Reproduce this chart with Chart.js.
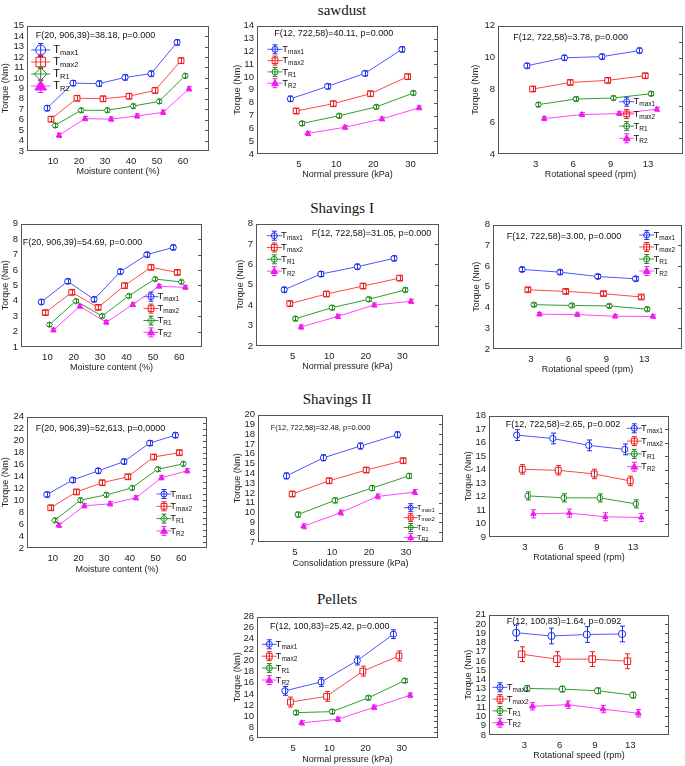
<!DOCTYPE html>
<html>
<head>
<meta charset="utf-8">
<script src="https://cdn.jsdelivr.net/npm/chart.js@4.4.1/dist/chart.umd.min.js"></script>
<style>
  html, body { margin: 0; padding: 0; background: #fff; }
  #page { position: relative; width: 685px; height: 766px; overflow: hidden; }
  #page canvas { position: absolute; }
  .title { position: absolute; font-family: 'Liberation Serif', 'Times New Roman', serif; font-size: 15px; color: #111; transform: translate(-50%, -50%); white-space: nowrap; }
</style>
</head>
<body>
<div id="page">
  <div class="title" style="left:342px;top:10px">sawdust</div>
  <div class="title" style="left:342px;top:208px">Shavings I</div>
  <div class="title" style="left:337px;top:399px">Shavings II</div>
  <div class="title" style="left:337px;top:599px">Pellets</div>
</div>
<script>
// categories
const moistureCats = ['10', '20', '30', '40', '50', '60'];
const pressureCats = ['5', '10', '20', '30'];
const speedCats = ['3', '6', '9', '13'];
const seriesSubs = ['max1', 'max2', 'R1', 'R2'];

// sawdust
const sawMoistTmax1 = [7.1, 9.5, 9.45, 10.05, 10.4, 13.4];
const sawMoistTmax2 = [6.05, 8.05, 8.0, 8.25, 8.8, 11.65];
const sawMoistTR1 = [5.45, 6.9, 6.9, 7.3, 7.75, 10.2];
const sawMoistTR2 = [4.5, 6.1, 6.05, 6.35, 6.7, 8.95];
const sawMoistErr = [0.25, 0.25, 0.2, 0.2];

const sawPressTmax1 = [8.3, 9.27, 10.28, 12.15];
const sawPressTmax2 = [7.35, 7.92, 8.7, 10.03];
const sawPressTR1 = [6.38, 6.98, 7.67, 8.75];
const sawPressTR2 = [5.6, 6.08, 6.73, 7.6];
const sawPressErr = [0.2, 0.2, 0.15, 0.15];

const sawSpeedTmax1 = [9.5, 10.0, 10.07, 10.45];
const sawSpeedTmax2 = [8.05, 8.46, 8.59, 8.88];
const sawSpeedTR1 = [7.08, 7.43, 7.49, 7.76];
const sawSpeedTR2 = [6.21, 6.46, 6.52, 6.79];
const sawSpeedErr = [0.15, 0.15, 0.12, 0.12];

// Shavings I
const shv1MoistTmax1 = [3.92, 5.26, 4.09, 5.89, 6.99, 7.46];
const shv1MoistTmax2 = [3.23, 4.55, 3.57, 4.98, 6.17, 5.84];
const shv1MoistTR1 = [2.45, 3.98, 3.01, 4.31, 5.41, 5.22];
const shv1MoistTR2 = [2.1, 3.64, 2.6, 3.75, 4.94, 4.87];
const shv1MoistErr = [0.15, 0.15, 0.12, 0.12];

const shv1PressTmax1 = [4.76, 5.53, 5.89, 6.3];
const shv1PressTmax2 = [4.08, 4.55, 4.94, 5.33];
const shv1PressTR1 = [3.34, 3.88, 4.29, 4.75];
const shv1PressTR2 = [2.93, 3.45, 4.01, 4.19];
const shv1PressErr = [0.12, 0.12, 0.1, 0.1];

const shv1SpeedTmax1 = [5.84, 5.71, 5.5, 5.39];
const shv1SpeedTmax2 = [4.86, 4.78, 4.67, 4.51];
const shv1SpeedTR1 = [4.14, 4.1, 4.08, 3.92];
const shv1SpeedTR2 = [3.68, 3.66, 3.58, 3.57];
const shv1SpeedErr = [0.1, 0.1, 0.08, 0.08];

// Shavings II
const shv2MoistTmax1 = [10.95, 13.38, 14.93, 16.48, 19.57, 20.9];
const shv2MoistTmax2 = [8.74, 11.39, 12.94, 13.93, 17.25, 17.97];
const shv2MoistTR1 = [6.64, 10.01, 10.9, 12.06, 15.2, 16.09];
const shv2MoistTR2 = [5.81, 9.07, 9.4, 10.4, 13.77, 14.93];
const shv2MoistErr = [0.4, 0.4, 0.35, 0.35];

const shv2PressTmax1 = [13.75, 15.6, 16.8, 17.95];
const shv2PressTmax2 = [11.9, 13.25, 14.35, 15.3];
const shv2PressTR1 = [9.8, 11.25, 12.5, 13.75];
const shv2PressTR2 = [8.6, 10.0, 11.65, 12.1];
const shv2PressErr = [0.3, 0.25, 0.25, 0.25];

const shv2SpeedTmax1 = [16.56, 16.31, 15.8, 15.5];
const shv2SpeedTmax2 = [14.02, 13.95, 13.68, 13.16];
const shv2SpeedTR1 = [12.05, 11.91, 11.9, 11.46];
const shv2SpeedTR2 = [10.72, 10.77, 10.5, 10.45];
const shv2SpeedErr = [0.4, 0.35, 0.3, 0.3];

// Pellets
const pelPressTmax1 = [14.55, 16.16, 20.05, 24.83];
const pelPressTmax2 = [12.52, 13.55, 18.13, 20.88];
const pelPressTR1 = [10.6, 10.78, 13.29, 16.4];
const pelPressTR2 = [8.75, 9.4, 11.56, 13.77];
const pelPressErr = [0.8, 0.9, 0.35, 0.4];

const pelSpeedTmax1 = [19.05, 18.7, 18.86, 18.92];
const pelSpeedTmax2 = [16.73, 16.2, 16.2, 15.97];
const pelSpeedTR1 = [13.03, 12.96, 12.78, 12.31];
const pelSpeedTR2 = [11.1, 11.28, 10.8, 10.35];
const pelSpeedErr = [0.85, 0.8, 0.3, 0.4];

// look
const offsets = [-0.23, -0.077, 0.077, 0.23];
const lineColors = ['#4b57ff', '#ff4646', '#2f9f2f', '#ff45ff'];
const markColors = ['#1c2df2', '#ee1c1c', '#1f8a1f', '#ee1cee'];
const FONT = "'Liberation Sans', Arial, sans-serif";

Chart.defaults.font.family = FONT;
Chart.defaults.color = '#222';

const panels = [
  { cats: moistureCats, series: [sawMoistTmax1, sawMoistTmax2, sawMoistTR1, sawMoistTR2], err: sawMoistErr,
    y: [3, 15, 1], x: [0, 7], xTitle: 'Moisture content (%)', diamond: true,
    box: [26.7, 24.5, 209, 150.5], titleX: 5, xTitleY: 172,
    note: 'F(20, 906,39)=38.18, p=0.000', notePos: [35.7, 36], noteFont: 9,
    legend: { x: 40.7, y: 50, dy: 12, r: 5, font: 11, tx: 12.6 } },
  { cats: pressureCats, series: [sawPressTmax1, sawPressTmax2, sawPressTR1, sawPressTR2], err: sawPressErr,
    y: [4, 14, 1], x: [-0.13, 4.74], xTitle: 'Normal pressure (kPa)',
    box: [256.7, 25, 438.3, 154], titleX: 237.7, xTitleY: 175,
    note: 'F(12, 722,58)=40.11, p=0.000', notePos: [274.3, 33.3], noteFont: 9,
    legend: { x: 275, y: 49.3, dy: 11.3, r: 3, font: 9.5, tx: 7.3 } },
  { cats: speedCats, series: [sawSpeedTmax1, sawSpeedTmax2, sawSpeedTR1, sawSpeedTR2], err: sawSpeedErr,
    y: [4, 12, 2], x: [0, 4.93], xTitle: 'Rotational speed (rpm)',
    box: [498.3, 25, 682.7, 154], titleX: 475, xTitleY: 175,
    note: 'F(12, 722,58)=3.78, p=0.000', notePos: [513.3, 37.7], noteFont: 9,
    legend: { x: 626.7, y: 101.7, dy: 12.2, r: 3, font: 9.5, tx: 6.8 } },
  { cats: moistureCats, series: [shv1MoistTmax1, shv1MoistTmax2, shv1MoistTR1, shv1MoistTR2], err: shv1MoistErr,
    y: [1, 9, 1], x: [0, 6.86], xTitle: 'Moisture content (%)', diamond: true,
    box: [20.7, 223.3, 202.3, 346.7], titleX: 5, xTitleY: 367.7,
    note: 'F(20, 906,39)=54.69, p=0.000', notePos: [22.7, 242.7], noteFont: 9,
    legend: { x: 151, y: 296.7, dy: 11.9, r: 3, font: 9.5, tx: 6.5 } },
  { cats: pressureCats, series: [shv1PressTmax1, shv1PressTmax2, shv1PressTR1, shv1PressTR2], err: shv1PressErr,
    y: [2, 8, 1], x: [0, 5], xTitle: 'Normal pressure (kPa)',
    box: [255.7, 223.3, 439.3, 345.7], titleX: 240, xTitleY: 367,
    note: 'F(12, 722,58)=31.05, p=0.000', notePos: [311.7, 234], noteFont: 9,
    legend: { x: 274.3, y: 235.7, dy: 11.8, r: 3, font: 9.5, tx: 6.8 } },
  { cats: speedCats, series: [shv1SpeedTmax1, shv1SpeedTmax2, shv1SpeedTR1, shv1SpeedTR2], err: shv1SpeedErr,
    y: [2, 8, 1], x: [0, 5], xTitle: 'Rotational speed (rpm)',
    box: [493.3, 224, 681.7, 349], titleX: 476, xTitleY: 370,
    note: 'F(12, 722,58)=3.00, p=0.000', notePos: [506.7, 237], noteFont: 9,
    legend: { x: 646.7, y: 235, dy: 12, r: 3, font: 9.5, tx: 6.8 } },
  { cats: moistureCats, series: [shv2MoistTmax1, shv2MoistTmax2, shv2MoistTR1, shv2MoistTR2], err: shv2MoistErr,
    y: [2, 24, 2], x: [0, 7], xTitle: 'Moisture content (%)', diamond: true,
    box: [26.7, 415.7, 207.3, 548.3], titleX: 5, xTitleY: 569.3,
    note: 'F(20, 906,39)=52,613, p=0,0000', notePos: [35.7, 428.3], noteFont: 9,
    legend: { x: 164, y: 494, dy: 12.3, r: 3, font: 9.5, tx: 6.3 } },
  { cats: pressureCats, series: [shv2PressTmax1, shv2PressTmax2, shv2PressTR1, shv2PressTR2], err: shv2PressErr,
    y: [7, 20, 1], x: [0, 5], xTitle: 'Consolidation pressure (kPa)',
    box: [258.3, 414.3, 443.3, 541.7], titleX: 237.7, xTitleY: 564,
    note: 'F(12, 722,58)=32.48, p=0.000', notePos: [270.7, 427.7], noteFont: 7.5,
    legend: { x: 410.7, y: 507.7, dy: 9.9, r: 2.5, font: 8, tx: 6 } },
  { cats: speedCats, series: [shv2SpeedTmax1, shv2SpeedTmax2, shv2SpeedTR1, shv2SpeedTR2], err: shv2SpeedErr,
    y: [9, 18, 1], x: [0, 5], xTitle: 'Rotational speed (rpm)',
    box: [489.3, 415, 669, 536.7], titleX: 468.3, xTitleY: 557.7,
    note: 'F(12, 722,58)=2.65, p=0.002', notePos: [505.7, 425], noteFont: 9,
    legend: { x: 634.3, y: 428.3, dy: 12.8, r: 3, font: 9.5, tx: 6.8 } },
  { cats: pressureCats, series: [pelPressTmax1, pelPressTmax2, pelPressTR1, pelPressTR2], err: pelPressErr,
    y: [6, 28, 2], x: [0, 5], xTitle: 'Normal pressure (kPa)',
    box: [256.7, 615.7, 438.3, 738.3], titleX: 237.7, xTitleY: 759.3,
    note: 'F(12, 100,83)=25.42, p=0.000', notePos: [270, 626.7], noteFont: 9,
    legend: { x: 269.3, y: 644.3, dy: 11.9, r: 3, font: 9.5, tx: 6.3 } },
  { cats: speedCats, series: [pelSpeedTmax1, pelSpeedTmax2, pelSpeedTR1, pelSpeedTR2], err: pelSpeedErr,
    y: [8, 21, 1], x: [0, 5.1], xTitle: 'Rotational speed (rpm)', big: true,
    box: [489.3, 614.3, 669, 735], titleX: 468.3, xTitleY: 756,
    note: 'F(12, 100,83)=1.64, p=0.092', notePos: [506.7, 621.7], noteFont: 9,
    legend: { x: 500, y: 687.3, dy: 11.8, r: 3, font: 9.5, tx: 6.8 } },
];

function drawMarker(ctx, shape, x, y, r, color, fill) {
  ctx.beginPath();
  if (shape === 'circle') ctx.arc(x, y, r, 0, Math.PI * 2);
  else if (shape === 'rect') ctx.rect(x - r * 0.95, y - r * 0.95, r * 1.9, r * 1.9);
  else if (shape === 'rectRot') {
    ctx.moveTo(x, y - r * 1.25); ctx.lineTo(x + r * 1.25, y);
    ctx.lineTo(x, y + r * 1.25); ctx.lineTo(x - r * 1.25, y); ctx.closePath();
  } else {
    ctx.moveTo(x, y - r * 1.15); ctx.lineTo(x + r * 1.15, y + r * 0.8);
    ctx.lineTo(x - r * 1.15, y + r * 0.8); ctx.closePath();
  }
  ctx.fillStyle = fill; ctx.fill();
  ctx.strokeStyle = color; ctx.lineWidth = 1; ctx.stroke();
}

function drawBar(ctx, x, y1, y2, cap, color) {
  ctx.strokeStyle = color; ctx.lineWidth = 1;
  ctx.beginPath();
  ctx.moveTo(x, y1); ctx.lineTo(x, y2);
  ctx.moveTo(x - cap, y1); ctx.lineTo(x + cap, y1);
  ctx.moveTo(x - cap, y2); ctx.lineTo(x + cap, y2);
  ctx.stroke();
}

function makePanel(p, page) {
  const cl = Math.max(0, Math.round(p.titleX - 5.4));
  const ct = Math.round(p.box[1] - 8);
  const cw = Math.round(p.box[2] + 4) - cl;
  const ch = Math.round(p.xTitleY + 5.4) - ct;
  const leftW = Math.round(p.box[0]) - cl;
  const bottomH = ch - (Math.round(p.box[3]) - ct);

  const canvas = document.createElement('canvas');
  canvas.width = cw; canvas.height = ch;
  canvas.style.left = cl + 'px'; canvas.style.top = ct + 'px';
  canvas.style.width = cw + 'px'; canvas.style.height = ch + 'px';
  page.appendChild(canvas);

  const shapes = ['circle', 'rect', p.diamond ? 'rectRot' : 'circle', 'triangle'];
  const radii = p.big ? [3.6, 4.6, 3.2, 3.4] : [3.1, 4.1, p.diamond ? 3.2 : 2.8, 3.1];

  const extras = {
    id: 'extras',
    afterDatasetsDraw(chart) {
      const { ctx, chartArea: a, scales } = chart;
      const ys = scales.y;
      ctx.save();
      // error bars
      chart.data.datasets.forEach((ds, s) => {
        const meta = chart.getDatasetMeta(s);
        meta.data.forEach((pt, j) => {
          const v = ds.data[j].y;
          drawBar(ctx, Math.round(pt.x) + 0.5, ys.getPixelForValue(v + p.err[s]),
            ys.getPixelForValue(v - p.err[s]), 2.5, markColors[s]);
        });
      });
      // frame
      ctx.strokeStyle = '#555'; ctx.lineWidth = 1;
      ctx.strokeRect(Math.round(a.left) + 0.5, Math.round(a.top) + 0.5,
        Math.round(a.width) - 1, Math.round(a.height) - 1);
      // small inner ticks on the right edge
      const minor = p.y[2] === 2 ? 1 : p.y[2];
      ctx.beginPath();
      for (let v = p.y[0] + minor; v < p.y[1]; v += minor) {
        const yy = Math.round(ys.getPixelForValue(v)) + 0.5;
        ctx.moveTo(a.right - 4, yy); ctx.lineTo(a.right, yy);
      }
      ctx.stroke();
      // statistic note
      ctx.fillStyle = '#111';
      ctx.font = p.noteFont + 'px ' + FONT;
      ctx.textBaseline = 'middle';
      ctx.textAlign = 'left';
      ctx.fillText(p.note, p.notePos[0] - cl, p.notePos[1] - ct);
      // legend
      const L = p.legend;
      seriesSubs.forEach((sub, s) => {
        const x = L.x - cl, y = L.y - ct + s * L.dy;
        const half = L.r + 2.5;
        ctx.strokeStyle = lineColors[s]; ctx.lineWidth = 1;
        ctx.beginPath(); ctx.moveTo(x - half - 2, y); ctx.lineTo(x + half + 2, y); ctx.stroke();
        drawBar(ctx, x, y - L.r - 1.5, y + L.r + 1.5, 2.5, markColors[s]);
        drawMarker(ctx, shapes[s], x, y, L.r, markColors[s], s === 3 ? markColors[s] : 'rgba(255,255,255,0)');
        ctx.fillStyle = '#111';
        ctx.font = L.font + 'px ' + FONT;
        ctx.textBaseline = 'middle';
        ctx.fillText('T', x + L.tx, y);
        const tw = ctx.measureText('T').width;
        ctx.font = (L.font * 0.68).toFixed(1) + 'px ' + FONT;
        ctx.fillText(sub, x + L.tx + tw, y + L.font * 0.3);
      });
      ctx.restore();
    }
  };

  new Chart(canvas, {
    type: 'line',
    data: {
      datasets: p.series.map((vals, s) => ({
        label: 'T' + seriesSubs[s],
        data: vals.map((v, i) => ({ x: i + 1 + offsets[s], y: v })),
        borderColor: lineColors[s],
        borderWidth: 1,
        pointStyle: shapes[s],
        pointRadius: radii[s],
        pointBorderWidth: 1,
        pointBorderColor: markColors[s],
        pointBackgroundColor: s === 3 ? markColors[s] : '#fff',
        tension: 0,
        fill: false,
      })),
    },
    options: {
      responsive: false,
      animation: false,
      events: [],
      layout: { padding: { top: 8, right: 4, left: 0, bottom: 0 }, autoPadding: false },
      plugins: { legend: { display: false }, tooltip: { enabled: false } },
      scales: {
        x: {
          type: 'linear',
          min: p.x[0],
          max: p.x[1],
          grid: { display: false, drawTicks: false },
          border: { display: false },
          afterBuildTicks: (sc) => { sc.ticks = p.cats.map((c, i) => ({ value: i + 1 })); },
          ticks: { callback: (v) => p.cats[v - 1], padding: 5, autoSkip: false, maxRotation: 0, font: { size: 9.5 }, color: '#222' },
          title: { display: true, text: p.xTitle, padding: 0, font: { size: 9, lineHeight: 1.2 }, color: '#222' },
          afterFit: (sc) => { sc.height = bottomH; },
        },
        y: {
          min: p.y[0],
          max: p.y[1],
          grid: { display: false, drawTicks: false },
          border: { display: false },
          ticks: { stepSize: p.y[2], autoSkip: false, padding: 3, font: { size: 9.5 }, color: '#222' },
          title: { display: true, text: 'Torque (Nm)', padding: 0, font: { size: 9, lineHeight: 1.2 }, color: '#222' },
          afterFit: (sc) => { sc.width = leftW; },
        },
      },
    },
    plugins: [extras],
  });
}

const page = document.getElementById('page');
panels.forEach((p) => makePanel(p, page));
</script>
</body>
</html>
